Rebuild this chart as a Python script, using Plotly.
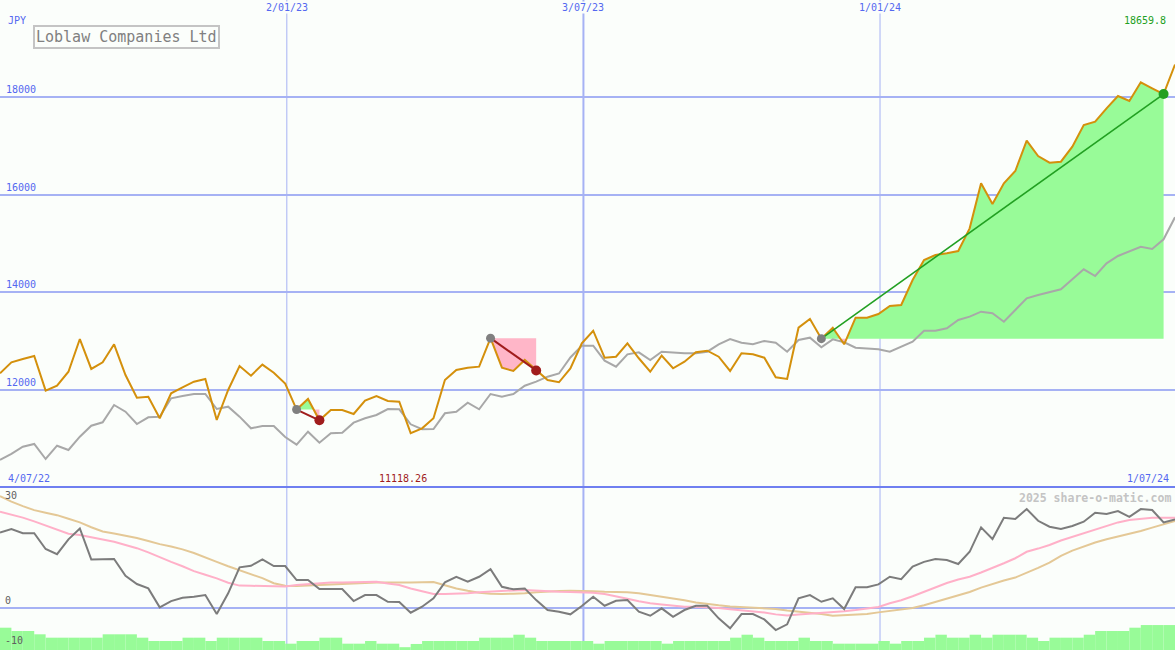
import numpy as np
import pandas as pd
import plotly.graph_objects as go

# ---------------- data ----------------
dates = pd.date_range("2022-07-10", periods=104, freq="7D")

price = [
    12342, 12567, 12634, 12696, 11986, 12088, 12374, 13043, 12430, 12567,
    12935, 12307, 11842, 11863, 11421, 11932, 12055, 12170, 12225, 11386,
    12000, 12491, 12293, 12520, 12354, 12130, 11600, 11816, 11380, 11591,
    11591, 11509, 11781, 11877, 11775, 11761, 11118.26, 11216, 11421, 12205,
    12409, 12456, 12477, 13060, 12456, 12389, 12614, 12400, 12205, 12158,
    12440, 12955, 13213, 12661, 12681, 12955, 12649, 12374, 12702, 12444,
    12579, 12771, 12804, 12681, 12389, 12751, 12730, 12661, 12260, 12225,
    13275, 13453, 13050, 13275, 12935, 13479, 13479, 13555, 13719, 13739,
    14251, 14660, 14762, 14797, 14844, 15308, 16229, 15806, 16229, 16481,
    17101, 16788, 16651, 16671, 16978, 17422, 17489, 17764, 18015, 17913,
    18296, 18173, 18056, 18659.8,
]

compare = [
    10568, 10691, 10840, 10895, 10588, 10860, 10772, 11045, 11270, 11339,
    11693, 11556, 11304, 11441, 11454, 11830, 11877, 11918, 11918, 11611,
    11658, 11454, 11216, 11263, 11263, 11038, 10881, 11147, 10922, 11114,
    11126, 11331, 11421, 11489, 11611, 11605, 11298, 11196, 11202, 11523,
    11556, 11740, 11605, 11918, 11863, 11918, 12088, 12170, 12272, 12338,
    12665, 12906, 12906, 12599, 12477, 12730, 12771, 12614, 12784, 12763,
    12751, 12751, 12784, 12935, 13043, 12968, 12935, 13003, 12968, 12784,
    13023, 13070, 12874, 13037, 12976, 12865, 12853, 12833, 12784, 12886,
    12988, 13213, 13213, 13262, 13432, 13500, 13602, 13569, 13397, 13637,
    13876, 13944, 13999, 14060, 14265, 14470, 14332, 14592, 14742, 14844,
    14932, 14885, 15083, 15533,
]

oscillator = [
    18.7, 19.55, 18.5, 18.5, 14.6, 13.3, 17.0, 19.7, 12.0, 12.1,
    12.1, 7.95, 5.9, 4.8, 0.1, 1.66, 2.48, 2.73, 3.16, -1.57,
    3.58, 10.04, 10.43, 12.0, 10.36, 10.36, 6.88, 6.88, 4.65, 4.65,
    4.65, 1.66, 3.16, 3.16, 1.49, 1.4, -1.24, 0.25, 2.33, 6.3,
    7.7, 6.46, 7.7, 9.6, 5.2, 4.57, 4.8, 1.9, -0.57, -0.99,
    -1.64, 0.42, 2.73, 0.5, 1.74, 1.9, -0.99, -1.99, -0.15, -2.24,
    -0.57, 0.5, 0.5, -2.63, -5.1, -1.57, -1.57, -2.9, -5.54, -4.12,
    2.33, 3.16, 1.49, 2.33, -0.32, 5.07, 5.07, 5.8, 7.7, 7.1,
    10.2, 11.4, 12.1, 11.85, 10.86, 13.9, 19.97, 17.07, 22.36, 22.04,
    24.52, 21.6, 20.12, 19.55, 20.3, 21.37, 23.6, 23.28, 24.02, 22.6,
    24.52, 24.27, 21.2, 21.96,
]

ma_fast = [
    23.85, 23.1, 22.4, 21.45, 20.4, 19.3, 18.4, 18.06, 17.5, 16.9,
    16.4, 15.6, 14.8, 13.75, 12.5, 11.4, 10.3, 9.1, 8.2, 7.3,
    6.2, 5.5, 5.45, 5.4, 5.3, 5.3, 5.65, 5.9, 6.15, 6.25,
    6.3, 6.35, 6.4, 6.46, 6.0, 5.64, 4.8, 4.05, 3.4, 3.4,
    3.45, 3.6, 3.85, 4.05, 4.23, 4.3, 4.4, 4.2, 4.0, 3.97,
    3.93, 3.87, 3.7, 3.4, 2.9, 2.25, 1.6, 1.1, 0.8, 0.5,
    0.25, 0.25, 0.15, -0.05, -0.35, -0.6, -0.85, -1.2, -1.65, -1.9,
    -1.67, -1.5, -1.25, -1.0, -0.85, -0.55, -0.2, 0.2, 1.1, 1.85,
    2.85, 3.9, 5.0, 6.15, 7.0, 7.7, 8.75, 9.85, 11.05, 12.3,
    13.9, 14.7, 15.6, 16.7, 17.6, 18.35, 19.3, 20.3, 21.2, 21.8,
    22.15, 22.36, 22.36, 22.36,
]

ma_slow = [
    27.75, 26.35, 25.25, 24.25, 23.6, 23.0, 22.1, 21.2, 20.0, 18.95,
    18.45, 17.95, 17.35, 16.6, 15.8, 15.2, 14.5, 13.6, 12.4, 11.4,
    10.3, 9.35, 8.45, 7.35, 6.1, 5.45, 5.4, 5.5, 5.63, 5.7,
    5.8, 5.95, 6.15, 6.3, 6.25, 6.2, 6.25, 6.35, 6.4, 5.6,
    4.8, 4.2, 3.75, 3.5, 3.4, 3.5, 3.57, 3.85, 4.05, 4.15,
    4.22, 4.22, 4.08, 3.96, 3.9, 3.85, 3.6, 3.15, 2.85, 2.4,
    1.85, 1.3, 0.9, 0.6, 0.32, 0.18, 0.08, 0.02, -0.3, -0.67,
    -0.96, -1.2, -1.55, -1.97, -1.87, -1.72, -1.55, -1.15, -0.8, -0.5,
    -0.05, 0.6, 1.4, 2.15, 2.95, 3.9, 5.0, 5.9, 6.75, 7.5,
    8.65, 9.9, 11.2, 12.9, 14.2, 15.25, 16.2, 17.0, 17.7, 18.3,
    19.05, 19.9, 20.75, 21.55,
]

volume = [
    5.54, 4.72, 4.72, 3.9, 3.06, 3.06, 3.06, 3.06, 3.06, 3.9,
    3.9, 3.9, 3.06, 2.24, 2.24, 2.24, 3.06, 3.06, 2.24, 3.06,
    3.06, 3.06, 3.06, 2.24, 2.24, 1.57, 2.24, 2.24, 3.06, 3.06,
    1.57, 1.57, 2.24, 1.57, 1.57, 0.7, 1.5, 2.24, 2.24, 2.24,
    2.24, 2.24, 3.06, 3.06, 3.06, 3.8, 3.06, 2.24, 2.24, 2.24,
    2.24, 2.24, 1.57, 2.24, 2.24, 2.24, 2.24, 2.24, 1.57, 2.24,
    2.24, 2.24, 2.24, 2.24, 3.06, 3.8, 3.06, 2.24, 2.24, 2.24,
    3.06, 2.24, 2.24, 1.57, 1.57, 1.57, 1.57, 2.24, 1.57, 2.24,
    2.24, 3.06, 3.8, 3.06, 3.06, 3.8, 3.06, 3.8, 3.8, 3.8,
    3.06, 2.24, 3.06, 3.06, 3.06, 3.8, 4.72, 4.72, 4.72, 5.54,
    6.2, 6.2, 6.2, 6.2,
]

trade_entry = [26, 43, 72]
trade_exit = [28, 47, 102]

grid_dates = ["2023-01-02", "2023-07-03", "2024-01-01"]
grid_labels = ["2/01/23", "3/07/23", "1/01/24"]
price_ticks = [12000, 14000, 16000, 18000]
osc_ticks = [30, 0, -10]

company = "Loblaw Companies Ltd"
currency = "JPY"
start_label = "4/07/22"
end_label = "1/07/24"
credit = "2025 share-o-matic.com"

# ---------------- styling ----------------
BG = "#fbfefb"
GRID = "#a6b2f4"
AXBLUE = "#6f7ff0"
TXTBLUE = "#5468f0"
ORANGE = "#d4900c"
GREY = "#a8a8a8"
GREEN_FILL = "#98fb98"
PINK_FILL = "#ffb6c8"
DARKRED = "#a01c1c"
GREEN = "#22a022"
FONT = "DejaVu Sans Mono"

H = 650
SPLIT = 1 - 487 / H

price = np.array(price, dtype=float)
fig = go.Figure()

# ---- trade fills ----
def trade_segment(i0, i1):
    level = price[i0]
    xs = [dates[i0].value]
    ys = [price[i0]]
    for i in range(i0, i1):
        a, b = price[i] - level, price[i + 1] - level
        if a * b < 0:
            t = a / (a - b)
            xs.append(dates[i].value + t * (dates[i + 1].value - dates[i].value))
            ys.append(level)
        xs.append(dates[i + 1].value)
        ys.append(price[i + 1])
    return pd.to_datetime(np.array(xs, dtype="int64")), np.array(ys), level

for i0, i1 in zip(trade_entry, trade_exit):
    xs, ys, level = trade_segment(i0, i1)
    base = np.full(len(xs), level)
    for part, col in ((np.maximum(ys, level), GREEN_FILL), (np.minimum(ys, level), PINK_FILL)):
        fig.add_trace(go.Scatter(x=xs, y=base, mode="lines", line=dict(width=0),
                                 hoverinfo="skip", showlegend=False))
        fig.add_trace(go.Scatter(x=xs, y=part, mode="lines", line=dict(width=0),
                                 fill="tonexty", fillcolor=col, hoverinfo="skip",
                                 showlegend=False))

# ---- main lines ----
fig.add_trace(go.Scatter(x=dates, y=compare, mode="lines",
                         line=dict(color=GREY, width=2), showlegend=False))
fig.add_trace(go.Scatter(x=dates, y=price, mode="lines",
                         line=dict(color=ORANGE, width=2), showlegend=False))

# ---- trade lines & markers ----
for i0, i1 in zip(trade_entry, trade_exit):
    win = price[i1] > price[i0]
    col = GREEN if win else DARKRED
    fig.add_trace(go.Scatter(x=[dates[i0], dates[i1]], y=[price[i0], price[i1]],
                             mode="lines", line=dict(color=col, width=1.6 if win else 2),
                             showlegend=False))
    fig.add_trace(go.Scatter(x=[dates[i0]], y=[price[i0]], mode="markers",
                             marker=dict(color="#808080", size=9), showlegend=False))
    fig.add_trace(go.Scatter(x=[dates[i1]], y=[price[i1]], mode="markers",
                             marker=dict(color=col, size=10), showlegend=False))

# ---- lower panel ----
fig.add_trace(go.Bar(x=dates, y=volume, base=-10.5, width=7 * 24 * 3600 * 1000, offset=0,
                     marker=dict(color=GREEN_FILL, line=dict(width=0)),
                     xaxis="x2", yaxis="y2", showlegend=False))
fig.add_trace(go.Scatter(x=dates, y=ma_slow, mode="lines", line=dict(color="#e4c896", width=2),
                         xaxis="x2", yaxis="y2", showlegend=False))
fig.add_trace(go.Scatter(x=dates, y=ma_fast, mode="lines", line=dict(color="#ffb0c8", width=2),
                         xaxis="x2", yaxis="y2", showlegend=False))
fig.add_trace(go.Scatter(x=dates, y=oscillator, mode="lines", line=dict(color="#7c7c7c", width=2),
                         xaxis="x2", yaxis="y2", showlegend=False))

# ---- shapes ----
shapes = []
for d, w in zip(grid_dates, [1, 2, 1]):
    shapes.append(dict(type="line", xref="x", yref="paper", x0=d, x1=d, y0=0, y1=1,
                       line=dict(color=GRID, width=w), layer="below"))
shapes.append(dict(type="line", xref="paper", yref="paper", x0=0, x1=1, y0=SPLIT, y1=SPLIT,
                   line=dict(color=AXBLUE, width=2), layer="above"))

# ---- annotations ----
ann = []
small = dict(family=FONT, size=10, color=TXTBLUE)
for d, lab in zip(grid_dates, grid_labels):
    ann.append(dict(x=d, xref="x", y=1, yref="paper", yanchor="top", xanchor="center",
                    text=lab, showarrow=False, font=small, bgcolor=BG, borderpad=0, yshift=-1))
for v in price_ticks:
    ann.append(dict(x=0, xref="paper", y=v, yref="y", xanchor="left", yanchor="bottom",
                    xshift=4, yshift=0, text=str(v), showarrow=False, font=small))
ann.append(dict(x=0, xref="paper", y=1, yref="paper", xanchor="left", yanchor="top",
                xshift=6, yshift=-13, text=currency, showarrow=False, font=small))
ann.append(dict(x=33 / 1175, xref="paper", y=1 - 25 / H, yref="paper", xanchor="left",
                yanchor="top", text=company, showarrow=False,
                font=dict(family=FONT, size=15, color="#808080"),
                bordercolor="#c4c4c4", borderwidth=2, borderpad=1, bgcolor=BG))
ann.append(dict(x=1, xref="paper", y=1, yref="paper", xanchor="right", yanchor="top",
                xshift=-7, yshift=-13, text=f"{price[-1]:.1f}", showarrow=False,
                font=dict(family=FONT, size=10, color=GREEN)))
imin = int(np.argmin(price))
ann.append(dict(x=dates[imin], xref="x", y=SPLIT, yref="paper", xanchor="center",
                yanchor="bottom", xshift=-8, yshift=1, text=f"{price[imin]:.2f}",
                showarrow=False, font=dict(family=FONT, size=10, color=DARKRED)))
ann.append(dict(x=0, xref="paper", y=SPLIT, yref="paper", xanchor="left", yanchor="bottom",
                xshift=6, yshift=1, text=start_label, showarrow=False, font=small))
ann.append(dict(x=1, xref="paper", y=SPLIT, yref="paper", xanchor="right", yanchor="bottom",
                xshift=-4, yshift=1, text=end_label, showarrow=False, font=small))
ann.append(dict(x=1, xref="paper", y=SPLIT, yref="paper", xanchor="right", yanchor="top",
                xshift=-2, yshift=-2, text=credit, showarrow=False,
                font=dict(family=FONT, size=11.5, color="#c4c4c4", weight="bold")))
osc_font = dict(family=FONT, size=10, color="#606060")
for v in osc_ticks:
    ann.append(dict(x=0, xref="paper", y=v, yref="y2", xanchor="left",
                    yanchor="top" if v == max(osc_ticks) else "bottom",
                    xshift=3, yshift=-1 if v == max(osc_ticks) else 0,
                    text=str(v), showarrow=False, font=osc_font))

fig.update_layout(
    width=1175, height=H,
    margin=dict(l=0, r=0, t=0, b=0),
    paper_bgcolor=BG, plot_bgcolor=BG,
    showlegend=False, hovermode=False,
    shapes=shapes, annotations=ann,
    xaxis=dict(domain=[0, 1], anchor="y", range=[dates[0], dates[-1]],
               showgrid=False, showticklabels=False, zeroline=False, showline=False,
               ticks=""),
    xaxis2=dict(domain=[0, 1], anchor="y2", matches="x", range=[dates[0], dates[-1]],
                showgrid=False, showticklabels=False, zeroline=False, showline=False,
                ticks=""),
    yaxis=dict(domain=[SPLIT, 1], range=[10015, 19980], tickvals=price_ticks,
               showgrid=True, gridcolor=GRID, gridwidth=2, showticklabels=False,
               zeroline=False, showline=False, ticks=""),
    yaxis2=dict(domain=[0, SPLIT], range=[-10.5, 30], showgrid=False,
                zeroline=True, zerolinecolor=GRID, zerolinewidth=2,
                showticklabels=False, showline=False, ticks=""),
)

fig.write_html("out.html", config={"displayModeBar": False},
               post_script="document.body.style.margin='0';document.body.style.overflow='hidden';")
